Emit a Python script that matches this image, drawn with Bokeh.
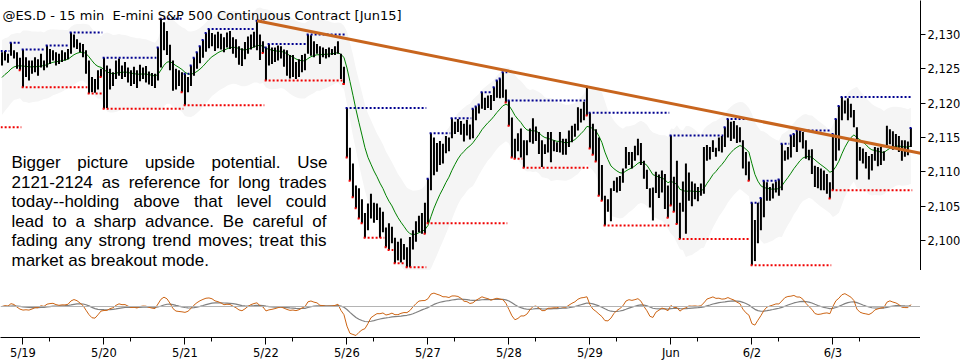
import numpy as np
from bokeh.plotting import figure
from bokeh.models import Range1d, FixedTicker, NumeralTickFormatter, Label, Span
from bokeh.layouts import column
from bokeh.embed import file_html
from bokeh.resources import INLINE

# ---------------- data ----------------
day_labels = ["5/19", "5/20", "5/21", "5/22", "5/26", "5/27", "5/28", "5/29", "Jun", "6/2", "6/3"]
bars_in_first_partial_day = 7
bars_per_day = 27
seed_day_high_0518 = 2127.6
seed_day_low_0518 = 2116.5
last_bar_mark = ["low"] * 11 + ["high"]
ma_seed = 2123.3
atr_seed = 2.8
price_ticks = [2100, 2105, 2110, 2115, 2120, 2125, 2130]
trend_anchor_bars = [85, 195]

title_text = "@ES.D - 15 min\u00a0 E-mini S&P 500 Continuous Contract [Jun15]"
note_lines = [
    "Bigger picture upside potential. Use",
    "2121-2124 as reference for long trades",
    "today--holding above that level could",
    "lead to a sharp advance. Be careful of",
    "fading any strong trend moves; treat this",
    "market as breakout mode.",
]

h_0518 = [2127.4, 2127.6, 2127.2, 2128.8, 2127.7, 2127.4, 2126.6]
l_0518 = [2125.5, 2126.2, 2125.9, 2126.9, 2126.5, 2125.0, 2124.8]

h_0519 = [2127.8, 2126.7, 2126.2, 2126.2, 2126.7, 2126.4, 2127.2, 2126.2, 2128.4, 2127.9, 2127.7, 2127.4, 2127.2, 2127.7,
          2127.4, 2127.9, 2130.3, 2130.0, 2129.3, 2128.8, 2128.6, 2127.7, 2126.2, 2123.8, 2123.5, 2124.8, 2125.0]
l_0519 = [2122.3, 2123.8, 2123.3, 2124.3, 2124.5, 2124.0, 2125.2, 2124.8, 2125.2, 2125.7, 2126.2, 2125.5, 2125.7, 2126.0,
          2126.2, 2126.4, 2127.2, 2128.1, 2127.9, 2127.4, 2126.7, 2124.3, 2121.4, 2121.6, 2121.5, 2122.0, 2123.8]

h_0520 = [2126.6, 2125.5, 2125.0, 2124.5, 2126.2, 2126.5, 2125.5, 2126.0, 2125.2, 2124.8, 2125.3, 2124.8, 2125.6, 2125.2,
          2125.4, 2124.6, 2124.4, 2124.3, 2128.1, 2132.3, 2131.8, 2130.5, 2128.5, 2126.2, 2125.0, 2124.8, 2124.5]
l_0520 = [2119.2, 2119.3, 2122.0, 2122.5, 2123.5, 2124.0, 2123.5, 2123.8, 2123.0, 2122.5, 2122.8, 2122.2, 2123.2, 2123.5,
          2123.0, 2122.7, 2122.5, 2122.2, 2123.3, 2125.2, 2127.7, 2127.0, 2124.8, 2121.8, 2122.0, 2122.5, 2121.6]

h_0521 = [2124.3, 2123.8, 2125.5, 2126.6, 2127.4, 2128.3, 2129.2, 2130.2, 2130.8, 2130.2, 2130.0, 2130.4, 2130.1, 2129.6,
          2130.3, 2130.5, 2129.6, 2129.3, 2128.3, 2128.0, 2128.9, 2129.7, 2130.0, 2130.4, 2132.0, 2130.0, 2129.0]
l_0521 = [2119.7, 2121.6, 2122.5, 2124.0, 2125.0, 2125.8, 2126.6, 2127.5, 2128.0, 2128.3, 2127.6, 2128.0, 2127.8, 2127.4,
          2128.1, 2127.9, 2127.2, 2126.6, 2125.6, 2125.4, 2126.4, 2127.2, 2127.8, 2128.1, 2127.7, 2126.3, 2127.3]

h_0522 = [2128.1, 2128.6, 2128.1, 2128.1, 2128.4, 2128.3, 2127.8, 2127.7, 2127.0, 2127.0, 2126.0, 2126.4, 2127.0, 2127.2,
          2130.0, 2129.9, 2129.0, 2128.6, 2128.3, 2128.1, 2127.9, 2128.1, 2127.9, 2128.3, 2129.0, 2127.2, 2125.3]
l_0522 = [2123.3, 2125.5, 2125.7, 2126.0, 2126.2, 2126.5, 2125.3, 2124.0, 2123.6, 2123.8, 2123.5, 2123.8, 2124.5, 2124.8,
          2127.2, 2126.9, 2126.7, 2127.2, 2125.7, 2126.7, 2126.5, 2126.7, 2127.0, 2127.0, 2127.2, 2123.5, 2122.8]

h_0526 = [2119.3, 2113.5, 2111.2, 2108.0, 2107.6, 2106.0, 2104.0, 2105.4, 2106.8, 2105.5, 2105.4, 2104.8, 2104.2, 2101.9,
          2102.5, 2102.0, 2100.4, 2099.8, 2100.3, 2099.5, 2099.0, 2100.5, 2101.5, 2102.8, 2103.6, 2104.0, 2105.5]
l_0526 = [2112.1, 2108.7, 2106.3, 2104.7, 2103.2, 2102.5, 2100.4, 2101.5, 2103.2, 2102.6, 2103.0, 2100.4, 2101.2, 2099.0,
          2098.6, 2099.6, 2096.7, 2097.1, 2096.8, 2097.2, 2096.1, 2096.1, 2098.7, 2099.8, 2101.2, 2101.0, 2101.0]

h_0527 = [2109.0, 2115.6, 2115.0, 2114.2, 2114.5, 2114.1, 2115.2, 2115.0, 2117.8, 2117.3, 2117.7, 2117.4, 2117.0, 2117.6,
          2116.9, 2119.2, 2119.5, 2119.8, 2121.6, 2120.8, 2121.1, 2121.2, 2122.3, 2123.3, 2123.6, 2124.5, 2122.0]
l_0527 = [2102.5, 2107.3, 2109.5, 2110.0, 2111.0, 2111.2, 2112.7, 2113.0, 2114.9, 2115.5, 2115.8, 2115.4, 2114.4, 2115.3,
          2114.7, 2114.9, 2117.5, 2118.5, 2119.2, 2119.0, 2119.3, 2119.0, 2120.3, 2120.8, 2120.7, 2120.8, 2120.1]

h_0528 = [2120.4, 2117.9, 2114.8, 2115.6, 2116.3, 2114.6, 2114.6, 2116.3, 2117.8, 2116.6, 2115.8, 2114.6, 2114.0, 2115.8,
          2115.8, 2114.6, 2114.3, 2115.8, 2114.8, 2114.8, 2116.0, 2116.7, 2117.0, 2119.4, 2119.2, 2120.2, 2122.4]
l_0528 = [2116.7, 2112.1, 2111.9, 2113.0, 2112.1, 2110.6, 2112.4, 2114.3, 2114.1, 2114.5, 2112.6, 2110.7, 2112.6, 2112.8,
          2111.4, 2113.0, 2112.9, 2112.8, 2112.5, 2112.5, 2113.6, 2114.3, 2115.1, 2116.0, 2117.2, 2117.5, 2118.2]

h_0529 = [2118.6, 2117.0, 2116.2, 2115.0, 2111.0, 2106.5, 2106.0, 2107.6, 2108.7, 2109.2, 2109.4, 2110.5, 2113.6, 2112.9,
          2112.9, 2113.8, 2114.8, 2114.2, 2111.6, 2110.3, 2107.6, 2107.7, 2110.0, 2109.6, 2110.2, 2109.7, 2108.0]
l_0529 = [2113.4, 2112.5, 2111.5, 2106.5, 2105.8, 2102.2, 2104.2, 2102.8, 2107.2, 2107.0, 2107.2, 2108.4, 2110.5, 2111.0,
          2110.5, 2111.6, 2112.4, 2111.0, 2109.0, 2107.5, 2104.8, 2102.9, 2106.9, 2106.2, 2107.0, 2104.6, 2103.3]

h_0601 = [2115.3, 2109.3, 2111.6, 2105.5, 2108.6, 2111.2, 2109.9, 2108.6, 2108.3, 2107.8, 2108.3, 2113.6, 2113.9, 2113.6,
          2114.6, 2113.5, 2115.0, 2115.2, 2116.5, 2117.7, 2117.3, 2117.4, 2116.8, 2116.5, 2114.6, 2112.9, 2111.5]
l_0601 = [2105.1, 2104.2, 2102.4, 2100.2, 2104.2, 2101.0, 2105.8, 2105.0, 2106.0, 2105.7, 2106.5, 2106.8, 2111.6, 2111.8,
          2112.9, 2112.2, 2113.0, 2112.8, 2113.6, 2115.0, 2114.5, 2114.8, 2114.2, 2114.3, 2110.5, 2109.5, 2108.7]

h_0602 = [2105.5, 2103.0, 2105.5, 2106.2, 2108.7, 2108.5, 2107.8, 2108.3, 2108.6, 2108.9, 2114.1, 2113.1, 2113.6, 2115.3,
          2115.5, 2116.0, 2116.0, 2115.8, 2114.6, 2113.2, 2113.3, 2110.9, 2110.7, 2110.5, 2110.2, 2109.7, 2108.5]
l_0602 = [2096.4, 2097.0, 2099.6, 2101.5, 2103.4, 2105.8, 2105.8, 2106.1, 2107.0, 2106.5, 2107.3, 2111.6, 2111.8, 2112.1,
          2113.6, 2112.9, 2114.3, 2113.4, 2111.9, 2111.7, 2109.7, 2107.8, 2107.6, 2107.3, 2107.3, 2106.8, 2106.1]

h_0603 = [2115.5, 2117.7, 2119.6, 2120.9, 2120.4, 2120.7, 2119.9, 2119.0, 2116.5, 2113.6, 2113.4, 2112.9, 2112.3, 2112.6,
          2113.6, 2113.5, 2113.6, 2113.0, 2116.7, 2116.2, 2115.9, 2115.5, 2115.2, 2114.6, 2114.6, 2114.4, 2116.4]
l_0603 = [2107.3, 2111.6, 2113.1, 2117.5, 2118.5, 2117.5, 2117.9, 2116.5, 2108.9, 2111.6, 2111.2, 2110.5, 2108.9, 2110.2,
          2111.6, 2110.8, 2111.0, 2111.6, 2113.8, 2114.0, 2113.2, 2113.6, 2112.9, 2111.6, 2112.2, 2112.4, 2113.6]

highs = np.array(h_0518 + h_0519 + h_0520 + h_0521 + h_0522 + h_0526 + h_0527 + h_0528 + h_0529 + h_0601 + h_0602 + h_0603)
lows = np.array(l_0518 + l_0519 + l_0520 + l_0521 + l_0522 + l_0526 + l_0527 + l_0528 + l_0529 + l_0601 + l_0602 + l_0603)
n = len(highs)
idx = np.arange(n)

# ---------------- layout constants ----------------
FRAME_W = 920
MAIN_H = 270
OSC_H = 67
OSC_ZERO_FROM_TOP = 36
XR0, XR1 = -0.5, 306.2
YR0, YR1 = 2095.63, 2134.95

day_starts = [bars_in_first_partial_day + k * bars_per_day for k in range(len(day_labels))]
day_bounds = [(0, day_starts[0])] + [(s, s + bars_per_day) for s in day_starts]

# running day high / low
rh = np.empty(n)
rl = np.empty(n)
for d, (s, e) in enumerate(day_bounds):
    ch = seed_day_high_0518 if d == 0 else -np.inf
    cl = seed_day_low_0518 if d == 0 else np.inf
    for i in range(s, e):
        ch = max(ch, highs[i])
        cl = min(cl, lows[i])
        rh[i] = ch
        rl[i] = cl


def runs(vals, s, e):
    out = []
    start = s
    for i in range(s + 1, e + 1):
        if i == e or vals[i] != vals[start]:
            out.append((start, i - 1, vals[start]))
            start = i
    return out


bx0, bx1, by = [], [], []
rx0, rx1, ry = [], [], []
for d, (s, e) in enumerate(day_bounds):
    for a, b, v in runs(rh, s, e):
        bx0.append(a - 0.45); bx1.append(b + 0.45); by.append(v)
    for a, b, v in runs(rl, s, e):
        rx0.append(a - 0.45); rx1.append(b + 0.45); ry.append(v)
    last = e - 1
    if last_bar_mark[d] == "low":
        rx0.append(last - 0.45); rx1.append(last + 0.45); ry.append(lows[last])
    else:
        bx0.append(last - 0.45); bx1.append(last + 0.45); by.append(highs[last])


def ema(v, a, seed):
    out = np.empty(len(v))
    x = seed
    for k, val in enumerate(v):
        x += a * (val - x)
        out[k] = x
    return out


mid = (highs + lows) / 2
ma = ema(mid, 0.14, ma_seed)
atr = ema(highs - lows, 0.07, atr_seed)
upper = ma + 2.0 * atr
lower = ma - 2.0 * atr
fast = ema(mid, 0.5, mid[0])
slow = ema(mid, 0.25, mid[0])
atr_fast = ema(highs - lows, 0.15, atr_seed)
osc = (fast - slow) / atr_fast
sig = ema(osc, 0.12, 0.0)

# ---------------- main figure ----------------
xr = Range1d(XR0, XR1)
p = figure(frame_width=FRAME_W, frame_height=MAIN_H, x_range=xr, y_range=Range1d(YR0, YR1),
           x_axis_location=None, y_axis_location="right", toolbar_location=None,
           output_backend="svg", min_border_left=0, min_border_top=0, min_border_bottom=0,
           min_border_right=0, outline_line_color=None, background_fill_color="white",
           border_fill_color="white")
p.grid.visible = False

p.varea(x=idx, y1=lower, y2=upper, fill_color="#f5f5f5")
p.line(idx, ma, line_color="#008000", line_width=1)
p.segment(x0=idx, y0=lows, x1=idx, y1=highs, line_color="black", line_width=2)
p.segment(x0=bx0, y0=by, x1=bx1, y1=by, line_color="#000090", line_width=2, line_dash="2 2")
p.segment(x0=rx0, y0=ry, x1=rx1, y1=ry, line_color="#f00000", line_width=2, line_dash="2 2")

t0, t1 = trend_anchor_bars
slope = (highs[t1] - highs[t0]) / (t1 - t0)
p.line([t0, XR1], [highs[t0], highs[t0] + slope * (XR1 - t0)], line_color="#c8651e", line_width=3)

ya = p.yaxis[0]
ya.ticker = FixedTicker(ticks=price_ticks)
ya.formatter = NumeralTickFormatter(format="0,0")
ya.major_tick_out = 5
ya.major_tick_in = 0
ya.minor_tick_out = 0
ya.minor_tick_in = 0
ya.major_label_standoff = 2
ya.major_label_text_font = "DejaVu Sans"
ya.major_label_text_font_size = "11.5px"
ya.major_label_text_color = "black"
ya.axis_line_color = "black"
ya.major_tick_line_color = "black"


def px2x(px):
    return XR0 + px * (XR1 - XR0) / FRAME_W


def py2y(py):
    return YR1 - py * (YR1 - YR0) / MAIN_H


p.add_layout(Label(x=px2x(2), y=py2y(14.5), text=title_text, text_font="DejaVu Sans",
                   text_font_size="13px", text_baseline="alphabetic", text_color="black"))

AW = {' ': 278, '-': 333, '.': 278, ';': 278, ',': 278, 'B': 667, 'U': 667,
      'a': 556, 'b': 556, 'c': 500, 'd': 556, 'e': 556, 'f': 278, 'g': 556, 'h': 556, 'i': 222,
      'j': 222, 'k': 500, 'l': 222, 'm': 833, 'n': 556, 'o': 556, 'p': 556, 'q': 556, 'r': 333,
      's': 500, 't': 278, 'u': 556, 'v': 500, 'w': 722, 'x': 500, 'y': 500, 'z': 500}
for c in "0123456789":
    AW[c] = 556

FS = 17
TX_L, TX_R = 11, 326
BASE0, STEP = 162.0, 19.5
for li, line in enumerate(note_lines):
    words = line.split()
    widths = [sum(AW.get(ch, 556) for ch in w) / 1000 * FS for w in words]
    if li < len(note_lines) - 1:
        gap = (TX_R - TX_L - sum(widths)) / (len(words) - 1)
    else:
        gap = AW[' '] / 1000 * FS
    xpos = TX_L
    for w, wd in zip(words, widths):
        p.add_layout(Label(x=px2x(xpos), y=py2y(BASE0 + li * STEP), text=w,
                           text_font="Liberation Sans", text_font_size=f"{FS}px",
                           text_baseline="alphabetic", text_color="black"))
        xpos += wd + gap

# ---------------- oscillator figure ----------------
lo = min(osc.min(), sig.min())
hi = max(osc.max(), sig.max())
ppu = min((OSC_H - OSC_ZERO_FROM_TOP - 2) / abs(lo), (OSC_ZERO_FROM_TOP - 3) / abs(hi))
o0 = -(OSC_H - OSC_ZERO_FROM_TOP) / ppu
o1 = OSC_ZERO_FROM_TOP / ppu
q = figure(frame_width=FRAME_W, frame_height=OSC_H, x_range=xr, y_range=Range1d(o0, o1),
           y_axis_location="right", toolbar_location=None, output_backend="svg",
           min_border_left=0, min_border_top=0, min_border_right=0, min_border_bottom=0,
           outline_line_color=None, background_fill_color="white", border_fill_color="white")
q.grid.visible = False
q.add_layout(Span(location=0, dimension="width", line_color="#b4b4b4", line_width=1))
q.line(idx, sig, line_color="#808080", line_width=1.2)
q.line(idx, osc, line_color="#cc6414", line_width=1)

qy = q.yaxis[0]
qy.ticker = FixedTicker(ticks=[])
qy.axis_line_color = "black"

xa = q.xaxis[0]
xa.ticker = FixedTicker(ticks=day_starts, minor_ticks=[s + 9 for s in day_starts])
xa.major_label_overrides = {s: lab for s, lab in zip(day_starts, day_labels)}
xa.major_tick_out = 7
xa.major_tick_in = 0
xa.minor_tick_out = 4
xa.minor_tick_in = 0
xa.major_label_standoff = 1
xa.major_label_text_font = "DejaVu Sans"
xa.major_label_text_font_size = "11.5px"
xa.major_label_text_color = "black"
xa.axis_line_color = "black"

layout = column(p, q, spacing=0)
open("out.html", "w").write(file_html(layout, INLINE, "ES chart"))
